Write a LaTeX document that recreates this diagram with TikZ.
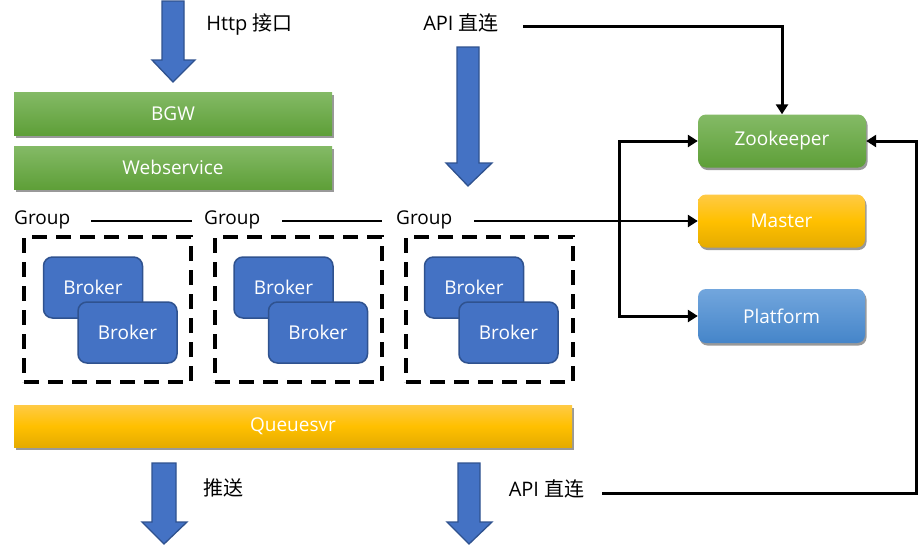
\documentclass[tikz,border=0pt]{standalone}
\usepackage{fontspec}
\setmainfont{Open Sans}
\newfontfamily\cjk{Noto Sans CJK SC}
\usetikzlibrary{arrows.meta,shadows,calc}
\definecolor{gTop}{HTML}{84BA66}
\definecolor{gBot}{HTML}{5E9F38}
\definecolor{yTop}{HTML}{FFCA45}
\definecolor{yMid}{HTML}{FFC000}
\definecolor{yBot}{HTML}{E5AB00}
\definecolor{bTop}{HTML}{72A6DD}
\definecolor{bBot}{HTML}{4585C9}
\definecolor{brk}{HTML}{4472C4}
\definecolor{brkLine}{HTML}{2F528F}
\begin{document}
\begin{tikzpicture}[x=1pt,y=-1pt,
  txt/.style={font=\fontsize{19}{22}\selectfont, inner sep=0pt},
  lbl/.style={font=\fontsize{20}{24}\selectfont, inner sep=0pt},
  shd/.style={drop shadow={shadow xshift=1.5pt,shadow yshift=-2.5pt,opacity=0.4,fill=black}},
  bar/.style={txt, text=white, inner sep=0pt, shd},
  greenbar/.style={bar, top color=gTop, bottom color=gBot},
  yellowbar/.style={bar, top color=yTop, bottom color=yBot, middle color=yMid},
  bluebar/.style={bar, top color=bTop, bottom color=bBot},
  dbox/.style={draw=black, line width=3.5pt, dash pattern=on 15pt off 9pt, minimum width=167pt, minimum height=145pt, inner sep=0pt},
  broker/.style={txt, text=white, fill=brk, draw=brkLine, line width=1.5pt, rounded corners=9pt, minimum width=99pt, minimum height=61pt},
  blockarrow/.style={fill=brk, draw=brkLine, line width=1.3pt, line join=miter},
  conn/.style={draw=black, line width=3pt, line join=miter},
  gline/.style={draw=black, line width=2.5pt},
  tip/.style={-{Triangle[length=10pt,width=12pt]}},
  bothtip/.style={{Triangle[length=10pt,width=12pt]}-{Triangle[length=10pt,width=12pt]}}
]
\useasboundingbox (0,0) rectangle (920,552);

% block arrows
\draw[blockarrow] (162,1) -- (184,1) -- (184,60) -- (195,60) -- (173,82) -- (152,60) -- (162,60) -- cycle;
\draw[blockarrow] (457,47) -- (479,47) -- (479,163) -- (492,163) -- (468,186) -- (446,163) -- (457,163) -- cycle;
\draw[blockarrow] (152,463) -- (176,463) -- (176,522) -- (187,522) -- (164,544) -- (142,522) -- (152,522) -- cycle;
\draw[blockarrow] (458,463) -- (480,463) -- (480,522) -- (492,522) -- (469,544) -- (447,522) -- (458,522) -- cycle;

% labels
\node[lbl] (http) at (249.5,25) {Http {\cjk 接口}};
\node[lbl] (apit) at (461,23) {API {\cjk 直连}};
\node[lbl] (push) at (223.5,488) {\cjk 推送};
\node[lbl] (apib) at (546.5,489) {API {\cjk 直连}};

% bars
\node[greenbar, minimum width=318pt, minimum height=43pt] (bgw) at (173,113.5) {BGW};
\node[greenbar, minimum width=318pt, minimum height=43pt] (web) at (173,167.5) {Webservice};
\node[yellowbar, minimum width=558pt, minimum height=42pt] (queue) at (293,426) {Queuesvr};

% right boxes
\node[greenbar, rounded corners=8pt, minimum width=168pt, minimum height=53pt] (zk) at (782,141) {Zookeeper};
\node[yellowbar, rounded corners=8pt, minimum width=167pt, minimum height=53pt] (master) at (781.5,221) {Master};
\node[bluebar, rounded corners=8pt, minimum width=167pt, minimum height=54pt] (plat) at (781.5,316) {Platform};

% groups
\node[txt, anchor=base west] (g1) at (14,224.5) {Group};
\node[txt, anchor=base west] (g2) at (204,224.5) {Group};
\node[txt, anchor=base west] (g3) at (396,224.5) {Group};

\node[dbox] (d1) at (107.5,309.5) {};
\node[dbox] (d2) at (298.5,309.5) {};
\node[dbox] (d3) at (489.5,309.5) {};

\node[broker] (b1a) at (93,287.5) {Broker};
\node[broker] (b1b) at (127.5,332.5) {Broker};
\node[broker] (b2a) at (283.5,287.5) {Broker};
\node[broker] (b2b) at (318,332.5) {Broker};
\node[broker] (b3a) at (474,287.5) {Broker};
\node[broker] (b3b) at (508.5,332.5) {Broker};

% group line
\draw[gline] ($(g1.east |- master.west)+(21,0)$) -- ($(g2.west |- master.west)+(-12,0)$);
\draw[gline] ($(g2.east |- master.west)+(22,0)$) -- ($(g3.west |- master.west)+(-14,0)$);
\draw[gline, tip] ($(g3.east |- master.west)+(22,0)$) -- (master.west);

% connectors
\coordinate (t1) at (523,26);
\draw[conn, tip] (t1) -| (zk.north);
\draw[conn, bothtip] (zk.west) -- ++(-78,0) |- (plat.west);
\coordinate (r1) at (602,493);
\draw[conn, tip] (r1) -| ($(zk.east)+(50,0)$) -- (zk.east);
\end{tikzpicture}
\end{document}
